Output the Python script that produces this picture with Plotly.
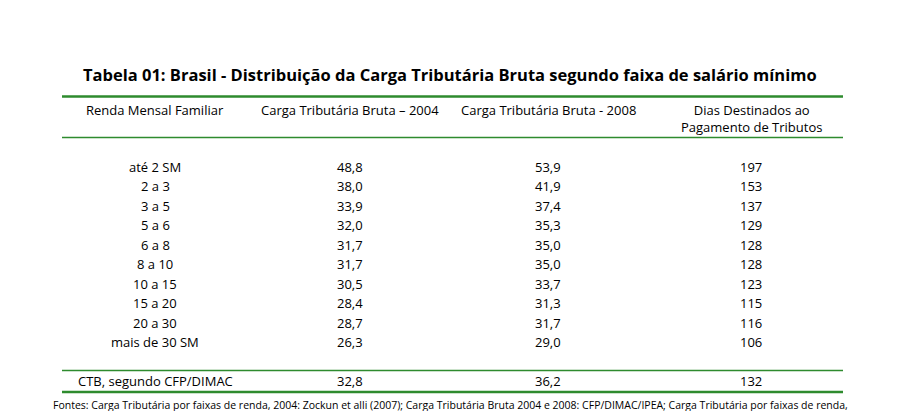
import plotly.graph_objects as go

title = "Tabela 01: Brasil - Distribuição da Carga Tributária Bruta segundo faixa de salário mínimo"
headers = ["Renda Mensal Familiar", "Carga Tributária Bruta – 2004", "Carga Tributária Bruta - 2008",
           "Dias Destinados ao<br>Pagamento de Tributos"]
faixas = ["até 2 SM", "2 a 3", "3 a 5", "5 a 6", "6 a 8", "8 a 10", "10 a 15", "15 a 20", "20 a 30", "mais de 30 SM"]
ctb2004 = ["48,8", "38,0", "33,9", "32,0", "31,7", "31,7", "30,5", "28,4", "28,7", "26,3"]
ctb2008 = ["53,9", "41,9", "37,4", "35,3", "35,0", "35,0", "33,7", "31,3", "31,7", "29,0"]
dias = ["197", "153", "137", "129", "128", "128", "123", "115", "116", "106"]
total = ["CTB, segundo CFP/DIMAC", "32,8", "36,2", "132"]
fonte = ("Fontes: Carga Tributária por faixas de renda, 2004: Zockun et alli (2007); Carga Tributária Bruta 2004 e 2008: "
         "CFP/DIMAC/IPEA; Carga Tributária por faixas de renda,<br>2008 e Dias Destinados ao Pagamento de Tributos, elaboração própria.")

FONT = "Open Sans"
def X(x): return x - 8
def Y(y): return (y - 13) / 0.927
colx = [155, 350, 548, 751]
fig = go.Figure()
ann = []
def t(x, y, s, size=13, bold=False, yanchor="middle"):
    ann.append(dict(x=X(x), y=Y(y), text=("<b>%s</b>" % s) if bold else s, showarrow=False,
                    xref="x", yref="y", xanchor="center", yanchor=yanchor,
                    font=dict(family=FONT, size=size, color="black")))
t(450, 75, title, size=16.5, bold=True)
for i, h in enumerate(headers):
    t(colx[i], 97, h, yanchor="top")
for r in range(len(faixas)):
    y = 160 + r * 18.1
    for i, v in enumerate([faixas[r], ctb2004[r], ctb2008[r], dias[r]]):
        t(colx[i], y, v)
for i, v in enumerate(total):
    t(colx[i], 359, v)
ann.append(dict(x=X(450), y=Y(373), text=fonte, showarrow=False, xref="x", yref="y", xanchor="center",
                yanchor="top", align="center", font=dict(family=FONT, size=10.5, color="black")))
green = "#2e8b2e"
shapes = [dict(type="line", x0=X(62), x1=X(843), y0=Y(y), y1=Y(y), xref="x", yref="y",
               line=dict(color=green, width=w)) for y, w in [(95, 2.5), (133, 1.5), (349, 1.5), (369, 2.5)]]
fig.update_layout(width=900, height=411, margin=dict(l=0, r=0, t=0, b=0),
                  plot_bgcolor="white", paper_bgcolor="white", annotations=ann, shapes=shapes,
                  xaxis=dict(range=[0, 900], visible=False, fixedrange=True),
                  yaxis=dict(range=[411, 0], visible=False, fixedrange=True))
fig.write_html("out.html")
